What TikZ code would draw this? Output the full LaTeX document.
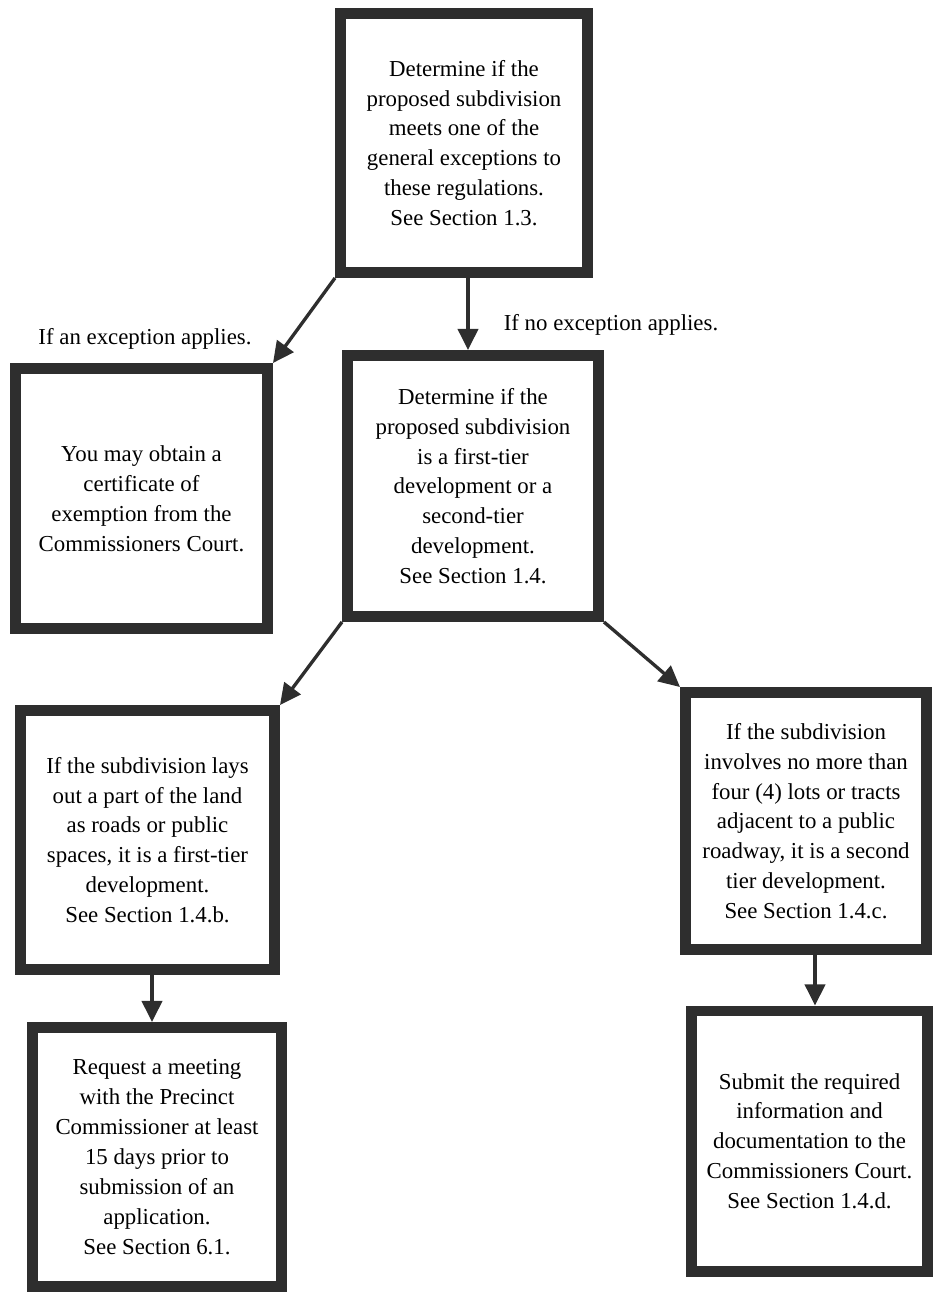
\documentclass[tikz,border=0pt]{standalone}
\usepackage{fontspec}
\setmainfont{Liberation Serif}
\usetikzlibrary{arrows.meta}

\begin{document}
\begin{tikzpicture}[x=0.02cm,y=-0.02cm,
  box/.style={draw=black!82, line width=6pt, fill=white, align=center, inner sep=2pt,
    minimum width=5cm, minimum height=5.2cm, font=\fontsize{13}{17}\selectfont},
  flow/.style={-{Triangle[length=12pt,width=11.5pt]}, line width=1.9pt, draw=black!82},
  note/.style={font=\fontsize{13}{17}\selectfont}]

  \useasboundingbox (0,0) rectangle (935,1293);

% Boxes
  \node[box, minimum width=4.95cm, minimum height=5.19cm] (exc) at (464,143)
    {Determine if the\\ proposed subdivision\\ meets one of the\\ general exceptions to\\ these regulations.\\ See Section 1.3.};
  \node[box, minimum width=5.05cm, minimum height=5.21cm] (cert) at (141.5,498.5)
    {You may obtain a\\ certificate of\\ exemption from the\\ Commissioners Court.};
  \node[box, minimum width=5.03cm, minimum height=5.23cm] (tier) at (473,486)
    {Determine if the\\ proposed subdivision\\ is a first-tier\\ development or a\\ second-tier\\ development.\\ See Section 1.4.};
  \node[box, minimum width=5.09cm, minimum height=5.19cm] (first) at (147.5,840)
    {If the subdivision lays\\ out a part of the land\\ as roads or public\\ spaces, it is a first-tier\\ development.\\ See Section 1.4.b.};
  \node[box, minimum width=4.83cm, minimum height=5.15cm] (second) at (806,821)
    {If the subdivision\\ involves no more than\\ four (4) lots or tracts\\ adjacent to a public\\ roadway, it is a second\\ tier development.\\ See Section 1.4.c.};
  \node[box, minimum width=4.99cm, minimum height=5.19cm] (meet) at (157,1157)
    {Request a meeting\\ with the Precinct\\ Commissioner at least\\ 15 days prior to\\ submission of an\\ application.\\ See Section 6.1.};
  \node[box, minimum width=4.73cm, minimum height=5.21cm] (submit) at (809.5,1141)
    {Submit the required\\ information and\\ documentation to the\\ Commissioners Court.\\ See Section 1.4.d.};

% Arrows
  \draw[flow] (exc.south west) -- (cert.north east);
  \draw[flow] (exc.south -| 468,0) -- (tier.north -| 468,0);
  \draw[flow] (tier.south west) -- (first.north east);
  \draw[flow] (tier.south east) -- (second.north west);
  \draw[flow] (first.south -| 152,0) -- (meet.north -| 152,0);
  \draw[flow] (second.south -| 815,0) -- (submit.north -| 815,0);

% Labels
  \node[note] (yes) at (145,339) {If an exception applies.};
  \node[note] (no) at (611,325) {If no exception applies.};

\end{tikzpicture}
\end{document}
